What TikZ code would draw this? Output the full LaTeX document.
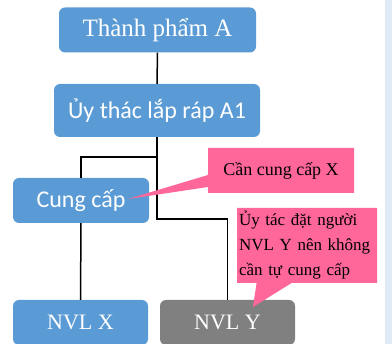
\documentclass[tikz,border=0pt]{standalone}
\usepackage{fontspec}
\setmainfont{Liberation Serif}
\newfontfamily\calfont{Carlito}
\usetikzlibrary{shapes.callouts}
\definecolor{boxblue}{HTML}{5B9BD5}
\definecolor{boxgray}{HTML}{808080}
\definecolor{notepink}{HTML}{FF6699}
\definecolor{edgeblue}{HTML}{DEEAF6}
\begin{document}
\begin{tikzpicture}[x=1pt,y=-1pt,
  orgbox/.style={rectangle, rounded corners=6pt, fill=boxblue, text=white,
    inner sep=0pt, align=center},
  graybox/.style={orgbox, fill=boxgray},
  note/.style={rectangle callout, fill=notepink, text=black, inner sep=0pt},
  link/.style={draw=black, line width=1.5pt}]
\useasboundingbox (0,0) rectangle (392,344);
\fill[edgeblue] (385,0) rectangle (392,344);

% tree of boxes
\node[orgbox, minimum width=197pt, minimum height=45pt,
  font=\fontsize{25}{30}\selectfont] (top) at (157.5,30) {Thành phẩm A};
\node[orgbox, minimum width=206pt, minimum height=53pt,
  font=\calfont\fontsize{24}{29}\selectfont] (a1) at (157,110.5) {Ủy thác lắp ráp A1};
\node[orgbox, minimum width=136pt, minimum height=45pt,
  font=\calfont\fontsize{24}{29}\selectfont] (cung) at (81,200.5) {Cung cấp};
\node[orgbox, minimum width=135pt, minimum height=45pt,
  font=\fontsize{22}{26}\selectfont] (nvlx) at (80.5,322.5) {NVL X};
\node[graybox, minimum width=135pt, minimum height=45pt,
  font=\fontsize{22}{26}\selectfont] (nvly) at (227.5,322.5) {NVL Y};

% connectors
\coordinate (j1) at (157,157);
\coordinate (j2) at (157,219);
\draw[link] (top.south) -- (a1.north);
\draw[link] (a1.south) -- (j2) -| (nvly.north);
\draw[link] (j1) -| (cung.north);
\draw[link] (cung.south) -- (nvlx.north);

% notes
\coordinate (tip1) at (128,199);
\coordinate (tip2) at (253,307);
\node[note, minimum width=146pt, minimum height=45pt,
  callout absolute pointer={(tip1)}, callout pointer width=12pt,
  font=\fontsize{18}{22}\selectfont] (n1) at (281,170.5) {Cần cung cấp X};
\node[note, minimum width=140pt, minimum height=75pt, text width=136pt,
  align=left, callout absolute pointer={(tip2)}, callout pointer width=35pt,
  font=\fontsize{17}{25}\selectfont] (n2) at (307,245.5)
  {Ủy tác đặt người\\NVL Y nên không\\cần tự cung cấp};
\end{tikzpicture}
\end{document}
